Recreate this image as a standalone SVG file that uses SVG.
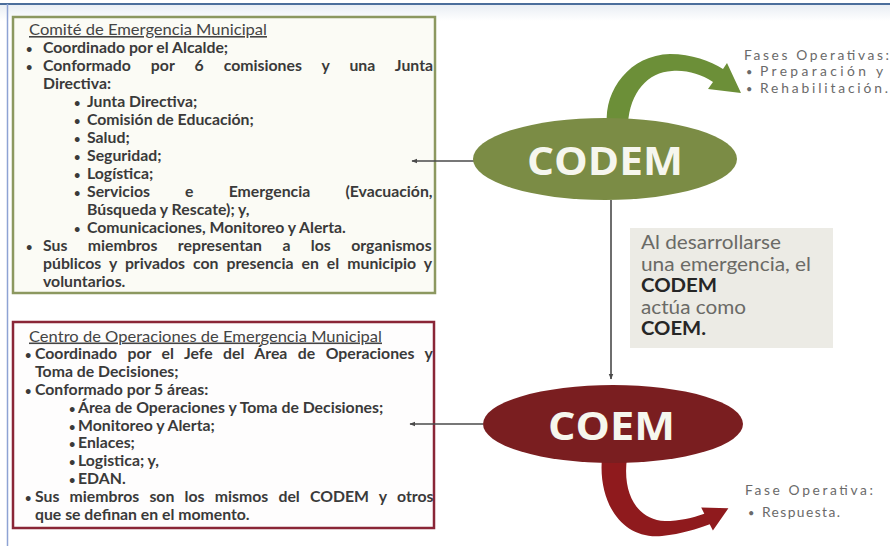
<svg xmlns="http://www.w3.org/2000/svg" width="890" height="546" viewBox="0 0 890 546">
<defs>
<style>
.t{font-family:Lato,"Open Sans","Liberation Sans",sans-serif;font-size:15.8px;font-weight:700;fill:#3a3a3a}
.ttl{font-weight:400;text-decoration:underline;fill:#444}
.b{font-size:11px}
.lbl{font-family:Lato,"Open Sans","Liberation Sans",sans-serif;font-size:13.8px;fill:#6a6a6a}
.g{font-family:Lato,"Open Sans","Liberation Sans",sans-serif;font-size:19.5px;fill:#6a6a66}
.gb{font-weight:700;fill:#262626}
.big{font-family:"Open Sans","Liberation Sans",sans-serif;font-size:40px;font-weight:700;fill:#f6f6ee}
.conn{stroke:#4a4a4a;stroke-width:1.6;fill:none}
</style>
<marker id="ah" viewBox="0 0 10 10" refX="9" refY="5" markerWidth="6" markerHeight="6" orient="auto" markerUnits="userSpaceOnUse">
<path d="M0,1 L10,5 L0,9 Z" fill="#4a4a4a"/>
</marker>
<linearGradient id="topg" x1="0" y1="0" x2="0" y2="1">
<stop offset="0" stop-color="#e9eef4"/>
<stop offset="1" stop-color="#ffffff"/>
</linearGradient>
</defs>
<rect width="890" height="546" fill="#ffffff"/>
<rect x="0" y="5" width="890" height="16" fill="url(#topg)"/>
<line x1="0" y1="4" x2="890" y2="4" stroke="#4b6e9c" stroke-width="2"/>
<line x1="7.5" y1="4" x2="7.5" y2="546" stroke="#8ea3d4" stroke-width="1.5"/>

<g id="box-comite">
<rect x="13" y="17" width="422" height="276" fill="#fbfbf5" stroke="#8c9860" stroke-width="2.5"/>
<text class="t ttl" x="29" y="35" textLength="238" lengthAdjust="spacingAndGlyphs">Comité de Emergencia Municipal</text>
<text class="t" x="26" y="53"><tspan class="b">•</tspan><tspan x="43">Coordinado por el Alcalde;</tspan></text>
<text class="t" x="26" y="71"><tspan class="b">•</tspan><tspan x="43" style="word-spacing:16.2px">Conformado por 6 comisiones y una Junta</tspan></text>
<text class="t" x="43" y="89">Directiva:</text>
<text class="t" x="74" y="107"><tspan class="b">•</tspan><tspan x="87">Junta Directiva;</tspan></text>
<text class="t" x="74" y="125"><tspan class="b">•</tspan><tspan x="87">Comisión de Educación;</tspan></text>
<text class="t" x="74" y="143"><tspan class="b">•</tspan><tspan x="87">Salud;</tspan></text>
<text class="t" x="74" y="161"><tspan class="b">•</tspan><tspan x="87">Seguridad;</tspan></text>
<text class="t" x="74" y="179"><tspan class="b">•</tspan><tspan x="87">Logística;</tspan></text>
<text class="t" x="74" y="197"><tspan class="b">•</tspan><tspan x="87" style="word-spacing:31.3px">Servicios e Emergencia (Evacuación,</tspan></text>
<text class="t" x="87" y="215">Búsqueda y Rescate); y,</text>
<text class="t" x="74" y="233"><tspan class="b">•</tspan><tspan x="87">Comunicaciones, Monitoreo y Alerta.</tspan></text>
<text class="t" x="26" y="251"><tspan class="b">•</tspan><tspan x="43" style="word-spacing:16.6px">Sus miembros representan a los organismos</tspan></text>
<text class="t" x="43" y="269" style="word-spacing:4.2px">públicos y privados con presencia en el municipio y</text>
<text class="t" x="43" y="287">voluntarios.</text>
</g>

<g id="box-centro">
<rect x="13" y="322" width="421" height="206" fill="#fefdfd" stroke="#8a2637" stroke-width="2.5"/>
<text class="t ttl" x="29" y="341.5" textLength="353" lengthAdjust="spacingAndGlyphs">Centro de Operaciones de Emergencia Municipal</text>
<text class="t" x="25" y="359.3"><tspan class="b">•</tspan><tspan x="35" style="word-spacing:6.6px">Coordinado por el Jefe del Área de Operaciones y</tspan></text>
<text class="t" x="35" y="377.1">Toma de Decisiones;</text>
<text class="t" x="25" y="394.9"><tspan class="b">•</tspan><tspan x="35">Conformado por 5 áreas:</tspan></text>
<text class="t" x="69" y="412.7"><tspan class="b">•</tspan><tspan x="78">Área de Operaciones y Toma de Decisiones;</tspan></text>
<text class="t" x="69" y="430.5"><tspan class="b">•</tspan><tspan x="78">Monitoreo y Alerta;</tspan></text>
<text class="t" x="69" y="448.3"><tspan class="b">•</tspan><tspan x="78">Enlaces;</tspan></text>
<text class="t" x="69" y="466.1"><tspan class="b">•</tspan><tspan x="78">Logistica; y,</tspan></text>
<text class="t" x="69" y="483.9"><tspan class="b">•</tspan><tspan x="78">EDAN.</tspan></text>
<text class="t" x="25" y="501.7"><tspan class="b">•</tspan><tspan x="35" style="word-spacing:6.4px">Sus miembros son los mismos del CODEM y otros</tspan></text>
<text class="t" x="35" y="519.5">que se definan en el momento.</text>
</g>

<g id="connectors">
<line class="conn" x1="474" y1="161" x2="412" y2="161" marker-end="url(#ah)"/>
<line class="conn" x1="483" y1="424" x2="410" y2="424" marker-end="url(#ah)"/>
<line class="conn" x1="611" y1="200" x2="611" y2="379" marker-end="url(#ah)"/>
<path d="M607,124 C604,90 630,55 670,54 C692,54 710,61 723,69 L727,63 L741,93 L708,89 L713,82 C700,74 688,70 672,71 C648,72 630,92 628,124 Z" fill="#6c8f38"/>
<path d="M602,458 C598,500 620,540 662,536 C682,534 697,529 709.7,524.3 L712.9,530.6 L728.4,508.2 L701.2,507.4 L704.3,513.7 C692,518 680,521 665,521 C638,520 622,495 627,458 Z" fill="#8f1a1d"/>
</g>

<g id="node-codem">
<ellipse cx="605" cy="159" rx="132" ry="41" fill="#7b8c45"/>
<text class="big" x="605" y="175" text-anchor="middle" textLength="156" lengthAdjust="spacingAndGlyphs">CODEM</text>
</g>

<g id="node-coem">
<ellipse cx="613" cy="424" rx="130" ry="39" fill="#7a1e20"/>
<text class="big" x="611.5" y="440" text-anchor="middle" textLength="127" lengthAdjust="spacingAndGlyphs">COEM</text>
</g>

<g id="note">
<rect x="630" y="228" width="203" height="120" fill="#ecebe5"/>
<text class="g" x="641" y="249" textLength="140" lengthAdjust="spacingAndGlyphs">Al desarrollarse</text>
<text class="g" x="641" y="270.5" textLength="170" lengthAdjust="spacingAndGlyphs">una emergencia, el</text>
<text class="g gb" x="641" y="292" textLength="76" lengthAdjust="spacingAndGlyphs">CODEM</text>
<text class="g" x="641" y="313.5" textLength="105" lengthAdjust="spacingAndGlyphs">actúa como</text>
<text class="g gb" x="641" y="335" textLength="65" lengthAdjust="spacingAndGlyphs">COEM.</text>
</g>

<g id="label-fases">
<text class="lbl" x="744" y="59.5" textLength="145" lengthAdjust="spacing">Fases Operativas:</text>
<text class="lbl" x="746" y="76"><tspan class="b">•</tspan><tspan x="760" textLength="123" lengthAdjust="spacing">Preparación y</tspan></text>
<text class="lbl" x="746" y="92.5"><tspan class="b">•</tspan><tspan x="760" textLength="128" lengthAdjust="spacing">Rehabilitación.</tspan></text>
</g>

<g id="label-fase">
<text class="lbl" x="745" y="495" textLength="128" lengthAdjust="spacing">Fase Operativa:</text>
<text class="lbl" x="748" y="517"><tspan class="b">•</tspan><tspan x="762" textLength="78" lengthAdjust="spacing">Respuesta.</tspan></text>
</g>
</svg>
